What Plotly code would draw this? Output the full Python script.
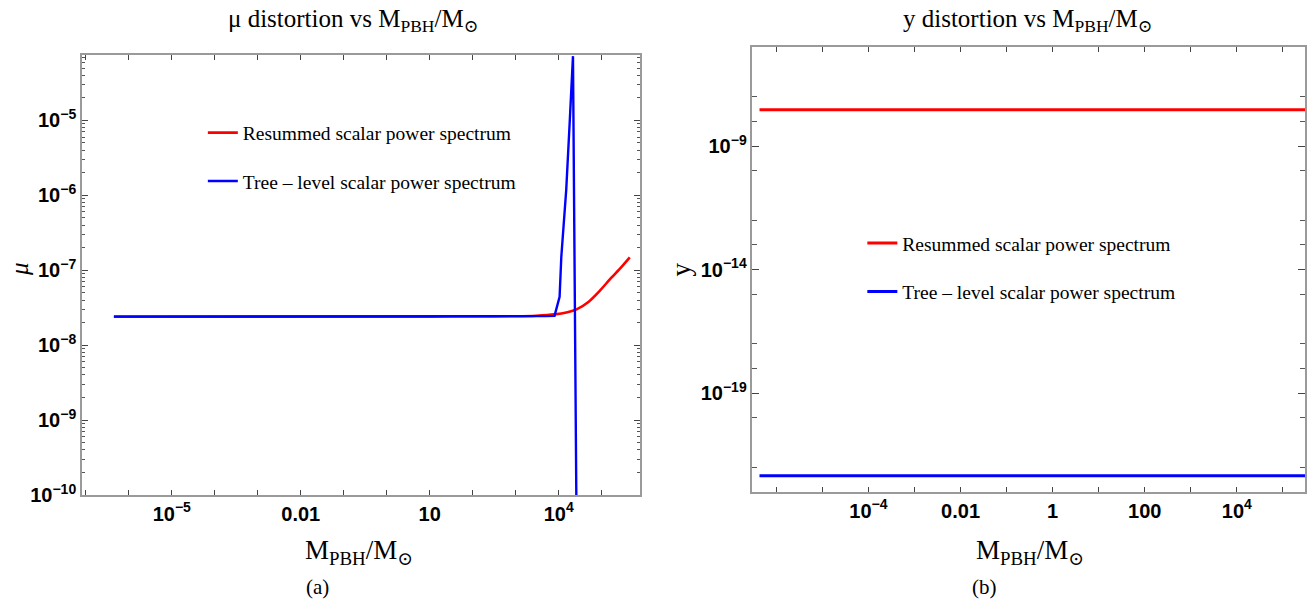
import plotly.graph_objects as go

# ---------------- data ----------------
# Panel (a): mu distortion
mass_mu_resummed = [4.5e-7, 1e-6, 1e-5, 1e-4, 1e-3, 1e-2, 1e-1, 1, 10, 100, 1e3, 3e3,
                    8e3, 1.6e4, 2.6e4, 5e4, 9e4, 1.6e5, 2.8e5, 4.5e5]
mu_resummed = [2.40e-8, 2.40e-8, 2.40e-8, 2.40e-8, 2.40e-8, 2.40e-8, 2.40e-8, 2.40e-8,
               2.40e-8, 2.41e-8, 2.43e-8, 2.47e-8, 2.57e-8, 2.75e-8, 3.00e-8, 3.8e-8,
               5.3e-8, 7.7e-8, 1.08e-7, 1.48e-7]

mass_mu_tree = [4.5e-7, 1e-6, 1e-5, 1e-4, 1e-3, 1e-2, 1e-1, 1, 10, 100, 1e3, 5e3,
                8e3, 1.05e4, 1.15e4, 1.5e4, 1.8e4, 2.15e4, 2.65e4]
mu_tree = [2.40e-8, 2.40e-8, 2.40e-8, 2.40e-8, 2.40e-8, 2.40e-8, 2.40e-8, 2.40e-8,
           2.40e-8, 2.41e-8, 2.42e-8, 2.44e-8, 2.46e-8, 4.4e-8, 1.5e-7, 1.2e-6,
           9.3e-6, 7.2e-5, 1e-11]

# Panel (b): y distortion
mass_y = [4.3e-7, 1e-6, 1e-5, 1e-4, 1e-3, 1e-2, 1e-1, 1, 10, 100, 1e3, 1e4, 1e5, 1e6]
y_resummed = [2.95e-8, 2.95e-8, 2.95e-8, 2.95e-8, 2.95e-8, 2.95e-8, 2.95e-8,
              2.95e-8, 2.95e-8, 2.95e-8, 2.95e-8, 2.95e-8, 2.95e-8, 2.95e-8]
y_tree = [4.5e-23, 4.5e-23, 4.5e-23, 4.5e-23, 4.5e-23, 4.5e-23, 4.5e-23,
          4.5e-23, 4.5e-23, 4.5e-23, 4.5e-23, 4.5e-23, 4.5e-23, 4.5e-23]

series_names = ["Resummed scalar power spectrum", "Tree \u2013 level scalar power spectrum"]

# tick labels
mu_x_tickvals = [1e-7, 1e-6, 1e-5, 1e-4, 1e-3, 1e-2, 1e-1, 1, 10, 100, 1e3, 1e4, 1e5]
mu_x_ticktext = ["", "", "10<sup>\u22125</sup>", "", "", "0.01", "", "", "10", "", "", "10<sup>4</sup>", ""]
mu_y_tickvals = [1e-10, 1e-9, 1e-8, 1e-7, 1e-6, 1e-5]
mu_y_ticktext = ["10<sup>\u221210</sup>", "10<sup>\u22129</sup>", "10<sup>\u22128</sup>",
                 "10<sup>\u22127</sup>", "10<sup>\u22126</sup>", "10<sup>\u22125</sup>"]
y_x_tickvals = [1e-6, 1e-5, 1e-4, 1e-3, 1e-2, 1e-1, 1, 10, 100, 1e3, 1e4, 1e5]
y_x_ticktext = ["", "", "10<sup>\u22124</sup>", "", "0.01", "", "1", "", "100", "", "10<sup>4</sup>", ""]
y_y_tickvals = [1e-19, 1e-14, 1e-9]
y_y_ticktext = ["10<sup>\u221219</sup>", "10<sup>\u221214</sup>", "10<sup>\u22129</sup>"]
y_y_minor = [1e-7, 1e-8, 1e-10, 1e-12, 1e-13, 1e-15, 1e-17, 1e-18, 1e-20, 1e-22]

# ---------------- figure ----------------
RED = "#ff0000"
BLUE = "#0000ff"
TICKFONT = dict(family="Liberation Sans Narrow, Arial Narrow, Liberation Sans", size=20,
                color="black", weight="bold")
SERIF = "Liberation Serif, DejaVu Serif, serif"

fig = go.Figure()
fig.add_trace(go.Scatter(x=mass_mu_resummed, y=mu_resummed, mode="lines", name=series_names[0],
                         line=dict(color=RED, width=2.6, shape="spline", smoothing=0.6),
                         xaxis="x", yaxis="y", legend="legend", legendgroup="a1"))
fig.add_trace(go.Scatter(x=mass_mu_tree, y=mu_tree, mode="lines", name=series_names[1],
                         line=dict(color=BLUE, width=2.4), xaxis="x", yaxis="y",
                         legend="legend", legendgroup="a2"))
fig.add_trace(go.Scatter(x=mass_y, y=y_resummed, mode="lines", name=series_names[0],
                         line=dict(color=RED, width=3), xaxis="x2", yaxis="y2",
                         legend="legend2", legendgroup="b1"))
fig.add_trace(go.Scatter(x=mass_y, y=y_tree, mode="lines", name=series_names[1],
                         line=dict(color=BLUE, width=3), xaxis="x2", yaxis="y2",
                         legend="legend2", legendgroup="b2"))

W, H = 1307, 605
SY = 0.978  # vertical correction observed between layout and photographed page


def px_x(p):
    return min(p / W, 1.0)


def px_y(p):
    return max(0.0, 1 - (p / SY) / H)


mu_minor_y = [m * 10 ** e for e in range(-10, -4) for m in range(2, 10)]

axis_common = dict(type="log", showgrid=False, zeroline=False, showline=True,
                   linecolor="#9a9a9a", linewidth=1.5, mirror="ticks", ticks="inside",
                   tickcolor="#444444", tickfont=TICKFONT, tickmode="array")

fig.update_layout(
    width=W, height=H,
    margin=dict(l=0, r=0, t=0, b=0),
    paper_bgcolor="white", plot_bgcolor="white",
    xaxis=dict(axis_common, domain=[px_x(82), px_x(640)], anchor="y",
               range=[-7.09, 5.88], tickvals=mu_x_tickvals, ticktext=mu_x_ticktext,
               ticklen=5),
    yaxis=dict(axis_common, domain=[px_y(493), px_y(55)], anchor="x",
               range=[-10, -4.13], tickvals=mu_y_tickvals, ticktext=mu_y_ticktext,
               ticklen=6,
               minor=dict(tickvals=mu_minor_y, ticklen=3, ticks="inside", tickcolor="#555555")),
    xaxis2=dict(axis_common, domain=[px_x(753), px_x(1306)], anchor="y2",
                range=[-6.52, 5.48], tickvals=y_x_tickvals, ticktext=y_x_ticktext,
                ticklen=5),
    yaxis2=dict(axis_common, domain=[px_y(490), px_y(47)], anchor="x2",
                range=[-23, -5], tickvals=y_y_tickvals, ticktext=y_y_ticktext,
                ticklen=7,
                minor=dict(tickvals=y_y_minor, ticklen=5, ticks="inside", tickcolor="#555555")),
    legend=dict(x=px_x(203), y=px_y(113), xanchor="left", yanchor="top",
                bgcolor="rgba(0,0,0,0)", font=dict(family=SERIF, size=19.5, color="black"),
                tracegroupgap=20, itemwidth=30),
    legend2=dict(x=px_x(863), y=px_y(223), xanchor="left", yanchor="top",
                 bgcolor="rgba(0,0,0,0)", font=dict(family=SERIF, size=19.5, color="black"),
                 tracegroupgap=20, itemwidth=30),
    showlegend=True,
)

ann = []
ann.append(dict(text="\u03bc distortion vs M<sub>PBH</sub>/M<sub>\u2299</sub>", x=px_x(353), y=px_y(20),
                xref="paper", yref="paper", showarrow=False, xanchor="center", yanchor="middle",
                font=dict(family=SERIF, size=25, color="black")))
ann.append(dict(text="y distortion vs M<sub>PBH</sub>/M<sub>\u2299</sub>", x=px_x(1028), y=px_y(20),
                xref="paper", yref="paper", showarrow=False, xanchor="center", yanchor="middle",
                font=dict(family=SERIF, size=25, color="black")))
ann.append(dict(text="M<sub>PBH</sub>/M<sub>\u2299</sub>", x=px_x(359), y=px_y(550),
                xref="paper", yref="paper", showarrow=False, xanchor="center", yanchor="middle",
                font=dict(family=SERIF, size=27, color="black")))
ann.append(dict(text="M<sub>PBH</sub>/M<sub>\u2299</sub>", x=px_x(1031), y=px_y(550),
                xref="paper", yref="paper", showarrow=False, xanchor="center", yanchor="middle",
                font=dict(family=SERIF, size=27, color="black")))
ann.append(dict(text="<i>\u03bc</i>", x=px_x(19), y=px_y(268), textangle=-90,
                xref="paper", yref="paper", showarrow=False, xanchor="center", yanchor="middle",
                font=dict(family=SERIF, size=25, color="black")))
ann.append(dict(text="y", x=px_x(682), y=px_y(268), textangle=-90,
                xref="paper", yref="paper", showarrow=False, xanchor="center", yanchor="middle",
                font=dict(family=SERIF, size=27, color="black")))
ann.append(dict(text="(a)", x=px_x(318), y=px_y(585), yanchor="middle",
                xref="paper", yref="paper", showarrow=False, xanchor="center",
                font=dict(family=SERIF, size=21, color="black")))
ann.append(dict(text="(b)", x=px_x(985), y=px_y(585), yanchor="middle",
                xref="paper", yref="paper", showarrow=False, xanchor="center",
                font=dict(family=SERIF, size=21, color="black")))
fig.update_layout(annotations=ann)

fig.write_html("out.html")
